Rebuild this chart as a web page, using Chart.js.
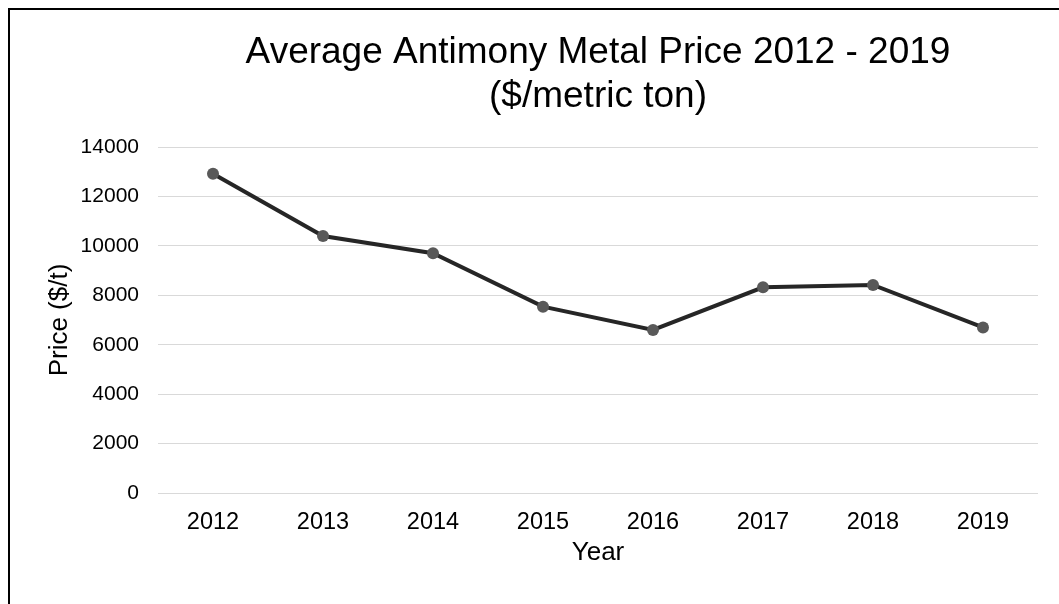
<!DOCTYPE html>
<html>
<head>
<meta charset="utf-8">
<script src="https://cdn.jsdelivr.net/npm/chart.js@4"></script>
<style>
  html, body { margin: 0; padding: 0; background: #fff; overflow: hidden; }
  #frame {
    position: absolute; left: 8px; top: 8px;
    width: 1200px; height: 800px;
    border: 2px solid #000;
  }
  #wrap { position: absolute; left: 0; top: 0; width: 1059px; height: 604px; }
</style>
</head>
<body>
<div id="frame"></div>
<div id="wrap"><canvas id="priceChart" width="1059" height="604"></canvas></div>
<script>
// Chart data
const years = ['2012', '2013', '2014', '2015', '2016', '2017', '2018', '2019'];
const prices = [12920, 10400, 9700, 7540, 6600, 8325, 8420, 6700];
const titleLines = ['Average Antimony Metal Price 2012 - 2019', '($/metric ton)'];
const yMin = 0, yMax = 14000, yStep = 2000;

const FONT = "'Liberation Sans', Arial, sans-serif";

// Center the chart title over the plot area instead of the whole canvas
const titleOverPlot = {
    id: 'titleOverPlot',
    afterLayout(chart) {
        const t = chart.titleBlock;
        if (t) {
            t.left = chart.chartArea.left;
            t.right = chart.chartArea.right;
        }
    }
};

const ctx = document.getElementById('priceChart').getContext('2d');
new Chart(ctx, {
    type: 'line',
    data: {
        labels: years,
        datasets: [{
            data: prices,
            borderColor: '#262626',
            borderWidth: 4,
            pointBackgroundColor: '#595959',
            pointBorderColor: '#595959',
            pointRadius: 6,
            pointBorderWidth: 0,
            tension: 0,
            fill: false
        }]
    },
    options: {
        responsive: false,
        animation: false,
        layout: { padding: { left: 0, right: 21, top: 0, bottom: 0 } },
        plugins: {
            legend: { display: false },
            tooltip: { enabled: false },
            title: {
                display: true,
                text: titleLines,
                color: '#000',
                font: { family: FONT, size: 37, weight: 'normal', lineHeight: 1.18 },
                padding: { top: 31, bottom: 28.7 }
            }
        },
        scales: {
            x: {
                offset: true,
                grid: { display: false, drawTicks: false },
                border: { display: false },
                ticks: { color: '#000', padding: 15, font: { family: FONT, size: 23.5 } },
                title: {
                    display: true, text: 'Year', color: '#000',
                    font: { family: FONT, size: 26 },
                    padding: { top: 0, bottom: 36 }
                },
                afterFit: s => { s.height = 111; }
            },
            y: {
                min: yMin, max: yMax,
                grid: { color: '#d9d9d9', lineWidth: 1, drawTicks: false },
                border: { display: false },
                ticks: {
                    stepSize: yStep, color: '#000', padding: 19,
                    font: { family: FONT, size: 21 },
                    callback: v => String(v)
                },
                title: {
                    display: true, text: 'Price ($/t)', color: '#000',
                    font: { family: FONT, size: 26 },
                    padding: { top: 44, bottom: 0 }
                },
                afterFit: s => { s.width = 158; }
            }
        }
    },
    plugins: [titleOverPlot]
});
</script>
</body>
</html>
